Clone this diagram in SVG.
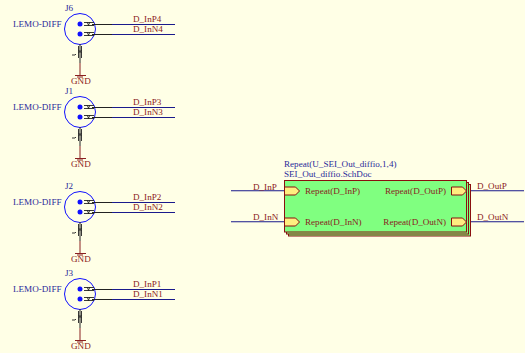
<svg xmlns="http://www.w3.org/2000/svg" width="525" height="353" viewBox="0 0 525 353">
<defs>
<style>
text{font-family:"Liberation Serif","Times New Roman",serif;font-size:9.1px}
.b{fill:#2a2a9a}.r{fill:#8a2020}
.wire{stroke:#1a1a8c;stroke-width:1.1;fill:none}
.blk{stroke:#222;stroke-width:1;fill:none}
.gw{stroke:#8a2020;stroke-width:1;fill:none}
.tw{stroke:#222;stroke-width:.9;fill:none}
.sheet{fill:#80ff80;stroke:#8a0f0f;stroke-width:1}
.port{fill:#ffee80;stroke:#8a0f0f;stroke-width:1}
</style>
<g id="conn">
<circle cx="80" cy="29" r="15.5" fill="none" stroke="#1010ff" stroke-width="1"/>
<circle cx="80" cy="24" r="2.500" fill="#1010ff"/><circle cx="80" cy="34" r="2.500" fill="#1010ff"/>
<path class="tw" d="M84 22.500h10M84 25.500h10M84 32.500h10M84 35.500h10M87 22l2 4M90 22l-2 4M87 32l2 4M90 32l-2 4M78.500 46v12M81.500 46v12M78.500 50l3 3M81.500 50l-3 3M72 55h3l1 -1"/>
<path class="blk" d="M92 24.500h20M92 34.500h20M80 44v19"/>
<path class="gw" d="M80 63v12M75 75.500h11M77 77h6"/>
</g>
</defs>
<rect width="525" height="353" fill="#ffffe6"/>
<g id="connectors">
<path class="wire" d="M112 24.500H175M112 34.500H175M112 107.500H175M112 117.500H175M112 202.500H175M112 212.500H175M112 289.500H175M112 299.500H175"/>
<path class="wire" d="M231 190.700H284M231 221.700H284M466 190.700H524M466 221.700H524"/>
</g>
<g id="J6"><use href="#conn"/><text class="b" x="65" y="11">J6</text><text class="b" x="13" y="27">LEMO-DIFF</text><text class="r" x="133" y="22">D_InP4</text><text class="r" x="133" y="32">D_InN4</text><text class="r" x="71" y="84">GND</text></g>
<g id="J1"><use href="#conn" y="83"/><text class="b" x="65" y="94">J1</text><text class="b" x="13" y="110">LEMO-DIFF</text><text class="r" x="133" y="105">D_InP3</text><text class="r" x="133" y="115">D_InN3</text><text class="r" x="71" y="167">GND</text></g>
<g id="J2"><use href="#conn" y="178"/><text class="b" x="65" y="189">J2</text><text class="b" x="13" y="205">LEMO-DIFF</text><text class="r" x="133" y="200">D_InP2</text><text class="r" x="133" y="210">D_InN2</text><text class="r" x="71" y="262">GND</text></g>
<g id="J3"><use href="#conn" y="265"/><text class="b" x="65" y="276">J3</text><text class="b" x="13" y="292">LEMO-DIFF</text><text class="r" x="133" y="287">D_InP1</text><text class="r" x="133" y="297">D_InN1</text><text class="r" x="71" y="349">GND</text></g>
<g id="sheet">
<rect class="sheet" x="288.500" y="184.500" width="182" height="51.500"/>
<rect class="sheet" x="286.500" y="182.500" width="182" height="51.500"/>
<rect class="sheet" x="284.500" y="180.500" width="182" height="51.500"/>
<text class="b" x="284" y="167">Repeat(U_SEI_Out_diffio,1,4)</text>
<text class="b" x="284" y="177">SEI_Out_diffio.SchDoc</text>
<path class="port" d="M284.500 187h11l4 4l-4 4h-11z"/>
<path class="port" d="M284.500 218h11l4 4l-4 4h-11z"/>
<path class="port" d="M451.500 187h11l4 4l-4 4h-11z"/>
<path class="port" d="M451.500 218h11l4 4l-4 4h-11z"/>
<text class="r" x="305" y="194">Repeat(D_InP)</text>
<text class="r" x="305" y="225">Repeat(D_InN)</text>
<text class="r" x="446" y="194" text-anchor="end">Repeat(D_OutP)</text>
<text class="r" x="446" y="225" text-anchor="end">Repeat(D_OutN)</text>
<text class="r" x="253" y="190">D_InP</text>
<text class="r" x="253" y="220">D_InN</text>
<text class="r" x="477" y="189">D_OutP</text>
<text class="r" x="477" y="220">D_OutN</text>
</g>
</svg>
